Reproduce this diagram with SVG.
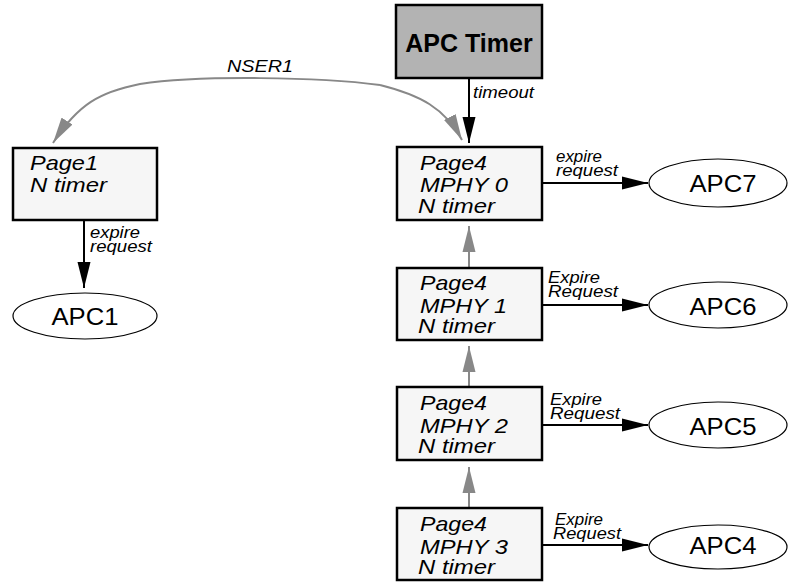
<svg xmlns="http://www.w3.org/2000/svg" width="791" height="582" viewBox="0 0 791 582">
<style>
.box{fill:#f6f6f6;stroke:#000;stroke-width:2.5}
.tbox{fill:#b3b3b3;stroke:#000;stroke-width:2.5}
.ell{fill:#fff;stroke:#000;stroke-width:1.2}
.bt{font-family:"Liberation Sans",Arial,sans-serif;font-style:italic;font-size:21px;fill:#000}
.lab{font-family:"Liberation Sans",Arial,sans-serif;font-style:italic;font-size:16px;fill:#000}
.apc{font-family:"Liberation Sans",Arial,sans-serif;font-size:24px;fill:#000;text-anchor:middle}
.blk{stroke:#000;stroke-width:2;fill:none;marker-end:url(#ab)}
.gry{stroke:#888;stroke-width:2;fill:none;marker-end:url(#ag)}
</style>
<defs>
<marker id="ab" markerUnits="userSpaceOnUse" markerWidth="27" markerHeight="14" refX="26" refY="6.5" orient="auto" viewBox="0 0 27 13">
<path d="M0,0 L26,6.5 L0,13 Z" fill="#000"/>
</marker>
<marker id="ag" markerUnits="userSpaceOnUse" markerWidth="27" markerHeight="14" refX="26" refY="6.5" orient="auto" viewBox="0 0 27 13">
<path d="M0,0 L26,6.5 L0,13 Z" fill="#888"/>
</marker>
</defs>

<g id="connectors">
<path class="gry" stroke-width="1.5" d="M 380,85 C 320,77 200,75 140,84 C 100,92 78,104 53,143"/>
<path class="gry" stroke-width="1.5" d="M 380,85 C 420,95 445,108 462,140"/>
<line class="blk" x1="469" y1="78" x2="469" y2="143"/>
<text class="lab" x="473" y="98" textLength="61" lengthAdjust="spacingAndGlyphs">timeout</text>
<text class="lab" x="227" y="72" textLength="66" lengthAdjust="spacingAndGlyphs">NSER1</text>
<line class="blk" x1="84" y1="220" x2="84" y2="288"/>
<text class="lab" x="90" y="238" textLength="50" lengthAdjust="spacingAndGlyphs">expire</text>
<text class="lab" x="90" y="252" textLength="62" lengthAdjust="spacingAndGlyphs">request</text>
<line class="gry" x1="469" y1="268" x2="469" y2="226"/>
<line class="gry" x1="469" y1="387" x2="469" y2="346"/>
<line class="gry" x1="469" y1="508" x2="469" y2="467"/>
<line class="blk" x1="542" y1="183" x2="648" y2="183"/>
<text class="lab" x="556" y="162" textLength="46" lengthAdjust="spacingAndGlyphs">expire</text>
<text class="lab" x="556" y="176" textLength="62" lengthAdjust="spacingAndGlyphs">request</text>
<line class="blk" x1="542" y1="305" x2="648" y2="305"/>
<text class="lab" x="548" y="283" textLength="52" lengthAdjust="spacingAndGlyphs">Expire</text>
<text class="lab" x="548" y="297" textLength="70" lengthAdjust="spacingAndGlyphs">Request</text>
<line class="blk" x1="542" y1="425" x2="648" y2="425"/>
<text class="lab" x="550" y="405" textLength="52" lengthAdjust="spacingAndGlyphs">Expire</text>
<text class="lab" x="550" y="419" textLength="70" lengthAdjust="spacingAndGlyphs">Request</text>
<line class="blk" x1="542" y1="545" x2="648" y2="545"/>
<text class="lab" x="555" y="525" textLength="48" lengthAdjust="spacingAndGlyphs">Expire</text>
<text class="lab" x="553" y="539" textLength="68" lengthAdjust="spacingAndGlyphs">Request</text>
</g>

<g id="apc-timer">
<rect class="tbox" x="396" y="5" width="146" height="73"/>
<text x="469" y="52" text-anchor="middle" font-family="Liberation Sans,Arial,sans-serif" font-weight="bold" font-size="25">APC Timer</text>
</g>

<g id="page1">
<rect class="box" x="13" y="148" width="144" height="72"/>
<text class="bt" x="30" y="170" textLength="68" lengthAdjust="spacingAndGlyphs">Page1</text>
<text class="bt" x="30" y="192" textLength="77" lengthAdjust="spacingAndGlyphs">N timer</text>
</g>

<g id="apc1">
<ellipse class="ell" cx="85" cy="316" rx="72" ry="23"/>
<text class="apc" x="85" y="325" textLength="67" lengthAdjust="spacingAndGlyphs">APC1</text>
</g>

<g id="mphy0">
<rect class="box" x="397" y="147" width="145" height="73"/>
<text class="bt" x="420" y="170" textLength="67" lengthAdjust="spacingAndGlyphs">Page4</text>
<text class="bt" x="420" y="192" textLength="88" lengthAdjust="spacingAndGlyphs">MPHY 0</text>
<text class="bt" x="418" y="213" textLength="77" lengthAdjust="spacingAndGlyphs">N timer</text>
</g>

<g id="mphy1">
<rect class="box" x="397" y="268" width="145" height="72"/>
<text class="bt" x="420" y="290" textLength="67" lengthAdjust="spacingAndGlyphs">Page4</text>
<text class="bt" x="420" y="313" textLength="87" lengthAdjust="spacingAndGlyphs">MPHY 1</text>
<text class="bt" x="418" y="333" textLength="77" lengthAdjust="spacingAndGlyphs">N timer</text>
</g>

<g id="mphy2">
<rect class="box" x="397" y="387" width="145" height="73"/>
<text class="bt" x="420" y="410" textLength="67" lengthAdjust="spacingAndGlyphs">Page4</text>
<text class="bt" x="420" y="433" textLength="88" lengthAdjust="spacingAndGlyphs">MPHY 2</text>
<text class="bt" x="418" y="453" textLength="77" lengthAdjust="spacingAndGlyphs">N timer</text>
</g>

<g id="mphy3">
<rect class="box" x="397" y="508" width="145" height="72"/>
<text class="bt" x="420" y="531" textLength="67" lengthAdjust="spacingAndGlyphs">Page4</text>
<text class="bt" x="420" y="554" textLength="88" lengthAdjust="spacingAndGlyphs">MPHY 3</text>
<text class="bt" x="418" y="574" textLength="77" lengthAdjust="spacingAndGlyphs">N timer</text>
</g>

<g id="apc7">
<ellipse class="ell" cx="718" cy="183" rx="69" ry="24"/>
<text class="apc" x="723" y="192" textLength="67" lengthAdjust="spacingAndGlyphs">APC7</text>
</g>
<g id="apc6">
<ellipse class="ell" cx="718" cy="305" rx="69" ry="23"/>
<text class="apc" x="723" y="315" textLength="67" lengthAdjust="spacingAndGlyphs">APC6</text>
</g>
<g id="apc5">
<ellipse class="ell" cx="718" cy="425" rx="69" ry="23"/>
<text class="apc" x="723" y="435" textLength="67" lengthAdjust="spacingAndGlyphs">APC5</text>
</g>
<g id="apc4">
<ellipse class="ell" cx="718" cy="547" rx="69" ry="22"/>
<text class="apc" x="723" y="554" textLength="67" lengthAdjust="spacingAndGlyphs">APC4</text>
</g>
</svg>
